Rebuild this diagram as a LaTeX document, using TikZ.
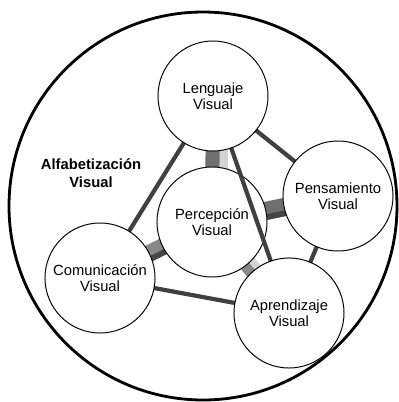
\documentclass[tikz,border=0pt]{standalone}
\usepackage{fontspec}
\setmainfont{Liberation Sans}
\usetikzlibrary{calc}
\definecolor{linkgray}{HTML}{404040}
\definecolor{bardark}{HTML}{6F6F6F}
\definecolor{barmid}{HTML}{878787}
\definecolor{barlight}{HTML}{D4D4D4}
\definecolor{barshade}{HTML}{454545}

\begin{document}
\begin{tikzpicture}[
            x=0.025cm, y=-0.025cm,
            concept/.style={circle, draw, line width=0.7pt, fill=white, minimum size=2.75cm, inner sep=0pt, align=center, font=\fontsize{10.5}{11.5}\selectfont},
            link/.style={draw=linkgray, line width=3pt},
            title/.style={align=center, font=\fontsize{10.5}{12.5}\selectfont\bfseries}
        ]
            \useasboundingbox (0,0) rectangle (399,402);
            \draw[line width=2pt] (203,206) circle [radius=194];
            \node[title] (alfa) at (91,173) {Alfabetización\\Visual};

            % places of the circles, the centre one drawn later
            \coordinate (percpos) at (212,222);
            \coordinate (lengpos) at (213,96);
            \coordinate (penspos) at (338,196);
            \coordinate (compos) at (100,278);
            \coordinate (aprpos) at (289,313);

            % thick bars to the centre
            \draw[barlight, line width=14pt, transform canvas={xshift=4pt}] (percpos) -- (lengpos);
            \draw[bardark, line width=10pt] (percpos) -- (lengpos);
            \draw[bardark, line width=13pt] (percpos) -- (penspos);
            \draw[barshade, line width=4pt, transform canvas={yshift=-4.5pt}] (percpos) -- (penspos);
            \draw[barmid, line width=12pt] (percpos) -- (compos);
            \draw[barshade, line width=4pt, transform canvas={xshift=1.8pt, yshift=-3.6pt}] (percpos) -- (compos);
            \draw[barmid, line width=12pt] (percpos) -- (aprpos);
            \draw[barlight, line width=5pt, transform canvas={xshift=3pt, yshift=2.6pt}] (percpos) -- (aprpos);

            \node[concept] (perc) at (percpos) {Percepción\\Visual};

            \draw[link] (lengpos) -- (aprpos);
            \draw[link] (lengpos) -- (compos);
            \draw[link] (lengpos) -- (penspos);
            \draw[link] (penspos) -- (aprpos);
            \draw[link] (compos) -- (aprpos);

            \node[concept] (leng) at (lengpos) {Lenguaje\\Visual};
            \node[concept] (pens) at (penspos) {Pensamiento\\Visual};
            \node[concept] (com) at (compos) {Comunicación\\Visual};
            \node[concept] (apr) at (aprpos) {Aprendizaje\\Visual};
        \end{tikzpicture}
\end{document}
